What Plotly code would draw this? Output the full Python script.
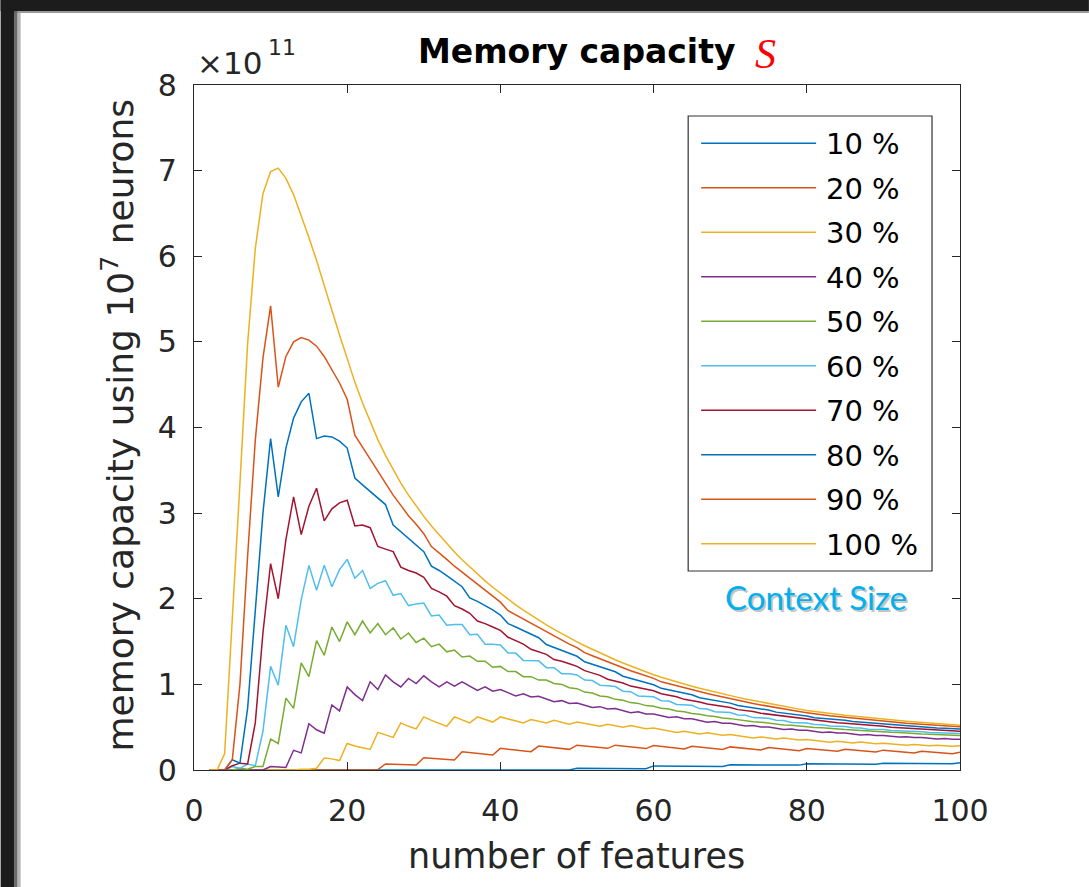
import plotly.graph_objects as go

# ---------------- data (values in units of 1e11) ----------------
features = list(range(2, 101))

context_labels = ["10 %", "20 %", "30 %", "40 %", "50 %", "60 %", "70 %", "80 %", "90 %", "100 %"]

cap_10 = [0]*48 + [
    0.020, 0.019, 0.019, 0.018, 0.018, 0.017, 0.017, 0.016, 0.016, 0.015,
    0.048, 0.047, 0.046, 0.046, 0.045, 0.044, 0.044, 0.043, 0.043, 0.042,
    0.062, 0.061, 0.061, 0.060, 0.060, 0.059, 0.059, 0.058, 0.058, 0.057,
    0.072, 0.071, 0.071, 0.070, 0.070, 0.069, 0.069, 0.068, 0.068, 0.067,
    0.078, 0.077, 0.077, 0.076, 0.076, 0.075, 0.075, 0.074, 0.074, 0.073,
    0.085]

cap_20 = [0]*18 + [
    0.005, 0.005, 0.004, 0.004, 0.004,
    0.070, 0.067, 0.064, 0.061, 0.058,
    0.144, 0.137, 0.130, 0.123, 0.117,
    0.214, 0.204, 0.194, 0.185, 0.175,
    0.253, 0.243, 0.233, 0.223, 0.214,
    0.280, 0.270, 0.260, 0.250, 0.241,
    0.290, 0.281, 0.272, 0.262, 0.253,
    0.290, 0.280, 0.270, 0.260, 0.250,
    0.285, 0.275, 0.265, 0.255, 0.245,
    0.278, 0.268, 0.258, 0.249, 0.240,
    0.270, 0.261, 0.252, 0.243, 0.234,
    0.262, 0.253, 0.244, 0.235, 0.226,
    0.252, 0.244, 0.236, 0.227, 0.218,
    0.242, 0.234, 0.226, 0.218, 0.210,
    0.232, 0.224, 0.216, 0.208, 0.200,
    0.220, 0.212, 0.205, 0.197, 0.190,
    0.208]

cap_30 = [0]*12 + [
    0.010, 0.010, 0.020, 0.140, 0.130, 0.110, 0.310, 0.280, 0.260, 0.240,
    0.440, 0.410, 0.380, 0.550, 0.510, 0.480, 0.620, 0.580, 0.545, 0.510,
    0.620, 0.585, 0.550, 0.620, 0.590, 0.560, 0.620, 0.595, 0.570, 0.550,
    0.590, 0.570, 0.550, 0.580, 0.560, 0.535, 0.560, 0.543, 0.527, 0.511,
    0.535, 0.518, 0.500, 0.520, 0.500, 0.482, 0.490, 0.472, 0.455, 0.439,
    0.453, 0.437, 0.422, 0.435, 0.420, 0.406, 0.414, 0.400, 0.387, 0.374,
    0.386, 0.373, 0.361, 0.373, 0.361, 0.350, 0.356, 0.345, 0.335, 0.325,
    0.335, 0.325, 0.316, 0.326, 0.317, 0.308, 0.312, 0.304, 0.296, 0.288,
    0.297, 0.289, 0.282, 0.290, 0.283, 0.276, 0.284]

cap_40 = [0]*8 + [
    0.040, 0.035, 0.030, 0.230, 0.200, 0.540, 0.470, 0.430, 0.760, 0.690,
    0.970, 0.880, 0.810, 1.030, 0.940, 1.110, 1.030, 0.970, 1.070, 1.010,
    1.100, 1.030, 0.970, 1.030, 0.980, 1.030, 0.980, 0.930, 0.970, 0.920,
    0.940, 0.900, 0.865, 0.890, 0.853, 0.862, 0.830, 0.798, 0.810, 0.778,
    0.782, 0.756, 0.730, 0.740, 0.713, 0.717, 0.693, 0.670, 0.680, 0.655,
    0.655, 0.633, 0.612, 0.621, 0.598, 0.598, 0.578, 0.558, 0.567, 0.547,
    0.547, 0.530, 0.513, 0.520, 0.503, 0.503, 0.488, 0.473, 0.480, 0.465,
    0.465, 0.452, 0.439, 0.445, 0.432, 0.432, 0.420, 0.409, 0.415, 0.403,
    0.403, 0.393, 0.384, 0.389, 0.379, 0.379, 0.371, 0.363, 0.367, 0.358,
    0.358]

cap_50 = [
    0, 0, 0, 0, 0.020, 0.010, 0.040, 0.040,
    0.360, 0.310, 0.840, 0.720, 1.250, 1.090, 1.510, 1.340, 1.670, 1.500,
    1.730, 1.580, 1.740, 1.600, 1.710, 1.580, 1.660, 1.530, 1.600, 1.490,
    1.540, 1.440, 1.470, 1.380, 1.400, 1.320, 1.330, 1.270, 1.270, 1.200,
    1.210, 1.150, 1.150, 1.090, 1.090, 1.050, 1.050, 1.010, 1.000, 0.960,
    0.950, 0.910, 0.900, 0.865, 0.855, 0.825, 0.815, 0.787, 0.778, 0.752,
    0.745, 0.722, 0.712, 0.690, 0.681, 0.660, 0.652, 0.633, 0.625, 0.607,
    0.600, 0.585, 0.578, 0.564, 0.558, 0.545, 0.539, 0.527, 0.522, 0.511,
    0.506, 0.497, 0.493, 0.484, 0.480, 0.472, 0.468, 0.461, 0.457, 0.450,
    0.447, 0.440, 0.437, 0.430, 0.427, 0.421, 0.418, 0.412, 0.410, 0.404,
    0.402]

cap_60 = [
    0, 0, 0, 0.040, 0.020, 0.070, 0.050, 0.450,
    1.210, 0.990, 1.690, 1.440, 1.990, 2.390, 2.100, 2.390, 2.140, 2.340,
    2.460, 2.240, 2.330, 2.120, 2.180, 2.210, 2.040, 2.060, 1.920, 1.940,
    1.950, 1.800, 1.810, 1.690, 1.700, 1.700, 1.580, 1.585, 1.470, 1.470,
    1.460, 1.365, 1.365, 1.280, 1.280, 1.275, 1.195, 1.195, 1.125, 1.125,
    1.110, 1.050, 1.045, 0.990, 0.985, 0.975, 0.920, 0.915, 0.865, 0.860,
    0.855, 0.810, 0.805, 0.765, 0.760, 0.755, 0.717, 0.713, 0.680, 0.676,
    0.672, 0.642, 0.638, 0.612, 0.608, 0.605, 0.580, 0.577, 0.556, 0.553,
    0.550, 0.532, 0.529, 0.513, 0.510, 0.508, 0.493, 0.490, 0.477, 0.475,
    0.473, 0.462, 0.460, 0.450, 0.448, 0.446, 0.437, 0.435, 0.428, 0.426,
    0.425]

cap_70 = [
    0, 0, 0, 0.050, 0.080, 0.070, 0.550, 1.600,
    2.410, 2.000, 2.690, 3.190, 2.750, 3.080, 3.290, 2.910, 3.050, 3.120,
    3.150, 2.850, 2.860, 2.830, 2.610, 2.580, 2.550, 2.370, 2.330, 2.300,
    2.250, 2.120, 2.080, 2.030, 1.920, 1.880, 1.830, 1.740, 1.710, 1.670,
    1.630, 1.550, 1.510, 1.470, 1.410, 1.380, 1.350, 1.290, 1.270, 1.240,
    1.210, 1.160, 1.130, 1.105, 1.060, 1.040, 1.015, 0.980, 0.960, 0.940,
    0.925, 0.890, 0.872, 0.855, 0.825, 0.810, 0.795, 0.770, 0.757, 0.744,
    0.730, 0.705, 0.694, 0.683, 0.663, 0.652, 0.642, 0.624, 0.615, 0.605,
    0.595, 0.580, 0.573, 0.566, 0.553, 0.546, 0.540, 0.528, 0.522, 0.516,
    0.510, 0.500, 0.495, 0.490, 0.481, 0.476, 0.472, 0.464, 0.460, 0.456,
    0.452]

cap_80 = [
    0, 0, 0, 0.120, 0.080, 0.720, 1.850, 3.000,
    3.870, 3.190, 3.760, 4.110, 4.300, 4.400, 3.870, 3.900, 3.890, 3.840,
    3.760, 3.410, 3.330, 3.250, 3.170, 3.100, 2.860, 2.780, 2.710, 2.630,
    2.550, 2.380, 2.330, 2.270, 2.200, 2.140, 2.010, 1.970, 1.920, 1.870,
    1.810, 1.710, 1.670, 1.630, 1.590, 1.545, 1.465, 1.430, 1.400, 1.364,
    1.328, 1.264, 1.236, 1.207, 1.178, 1.147, 1.095, 1.071, 1.045, 1.020,
    0.995, 0.954, 0.936, 0.916, 0.898, 0.878, 0.844, 0.829, 0.813, 0.797,
    0.781, 0.753, 0.740, 0.727, 0.714, 0.700, 0.676, 0.665, 0.654, 0.642,
    0.631, 0.611, 0.604, 0.596, 0.589, 0.580, 0.566, 0.559, 0.553, 0.547,
    0.541, 0.527, 0.523, 0.517, 0.512, 0.507, 0.496, 0.491, 0.487, 0.482,
    0.478]

cap_90 = [
    0, 0, 0, 0.120, 1.000, 2.500, 3.850, 4.810,
    5.420, 4.470, 4.830, 5.000, 5.050, 5.020, 4.950, 4.830, 4.670, 4.520,
    4.330, 3.910, 3.770, 3.630, 3.480, 3.350, 3.210, 3.090, 2.970, 2.870,
    2.760, 2.610, 2.540, 2.460, 2.380, 2.310, 2.230, 2.160, 2.090, 2.020,
    1.960, 1.860, 1.810, 1.760, 1.710, 1.660, 1.610, 1.560, 1.520, 1.470,
    1.430, 1.370, 1.335, 1.300, 1.260, 1.230, 1.190, 1.160, 1.130, 1.100,
    1.070, 1.030, 1.006, 0.983, 0.960, 0.937, 0.915, 0.893, 0.873, 0.853,
    0.833, 0.808, 0.793, 0.776, 0.760, 0.743, 0.728, 0.712, 0.698, 0.683,
    0.669, 0.652, 0.644, 0.633, 0.624, 0.613, 0.605, 0.596, 0.588, 0.579,
    0.571, 0.561, 0.554, 0.547, 0.541, 0.534, 0.528, 0.521, 0.516, 0.509,
    0.504]

cap_100 = [
    0, 0, 0.190, 1.700, 3.350, 4.980, 6.090, 6.730,
    6.990, 7.030, 6.910, 6.720, 6.480, 6.220, 5.950, 5.670, 5.370, 5.080,
    4.800, 4.530, 4.285, 4.062, 3.859, 3.674, 3.505, 3.351, 3.210, 3.082,
    2.962, 2.849, 2.744, 2.642, 2.547, 2.455, 2.369, 2.286, 2.209, 2.134,
    2.063, 1.995, 1.929, 1.867, 1.808, 1.750, 1.695, 1.643, 1.592, 1.543,
    1.496, 1.451, 1.408, 1.365, 1.326, 1.287, 1.250, 1.214, 1.178, 1.145,
    1.113, 1.084, 1.056, 1.029, 1.004, 0.979, 0.955, 0.932, 0.910, 0.889,
    0.868, 0.848, 0.829, 0.811, 0.793, 0.775, 0.758, 0.742, 0.727, 0.711,
    0.696, 0.683, 0.672, 0.660, 0.650, 0.639, 0.630, 0.620, 0.611, 0.602,
    0.594, 0.586, 0.578, 0.570, 0.563, 0.556, 0.549, 0.542, 0.536, 0.529,
    0.523]

series = [cap_10, cap_20, cap_30, cap_40, cap_50, cap_60, cap_70, cap_80, cap_90, cap_100]
bad = [(lab, len(s)) for lab, s in zip(context_labels, series) if len(s) != len(features)]
if bad:
    raise ValueError(f"length mismatch: {bad}, expected {len(features)}")

colors = ["#0072BD", "#D95319", "#EDB120", "#7E2F8E", "#77AC30",
          "#4DBEEE", "#A2142F", "#0072BD", "#D95319", "#EDB120"]

# ---------------- geometry (pixels) ----------------
W, H = 1089, 887
PL, PR, PT, PB = 193.5, 960.0, 85.0, 770.0
AXC = "#262626"


def px(x):
    return (x - PL) / (PR - PL)


def py(y):
    return (PB - y) / (PB - PT)


fig = go.Figure()
for lab, ys, col in zip(context_labels, series, colors):
    fig.add_trace(go.Scatter(x=features, y=ys, mode="lines", name=lab,
                             line=dict(color=col, width=1.5), showlegend=False))

axis_common = dict(ticks="inside", ticklen=8, tickwidth=1.3, tickcolor=AXC,
                   showline=True, linecolor=AXC, linewidth=1.3, mirror="ticks",
                   showgrid=False, zeroline=False,
                   tickfont=dict(family="DejaVu Sans", size=30, color=AXC))

fig.update_xaxes(range=[0, 100], tickvals=[0, 20, 40, 60, 80, 100], ticklabelstandoff=14, **axis_common)
fig.update_yaxes(range=[0, 8], tickvals=list(range(0, 9)), ticklabelstandoff=10, **axis_common)

shapes = []
# screenshot frame (dark band top and left)
shapes.append(dict(type="rect", xref="paper", yref="paper", x0=px(0), x1=px(W), y0=py(0), y1=py(11),
                   fillcolor="#1c1c1c", line=dict(width=0), layer="above"))
shapes.append(dict(type="rect", xref="paper", yref="paper", x0=px(13), x1=px(W), y0=py(11), y1=py(13),
                   fillcolor="#9a9a9a", line=dict(width=0), layer="above"))
shapes.append(dict(type="rect", xref="paper", yref="paper", x0=px(0), x1=px(14), y0=py(0), y1=py(H),
                   fillcolor="#1c1c1c", line=dict(width=0), layer="above"))
shapes.append(dict(type="rect", xref="paper", yref="paper", x0=px(14), x1=px(17), y0=py(11), y1=py(H),
                   fillcolor="#6a6a6a", line=dict(width=0), layer="above"))
shapes.append(dict(type="rect", xref="paper", yref="paper", x0=px(17), x1=px(20), y0=py(13), y1=py(H),
                   fillcolor="#b5b5b5", line=dict(width=0), layer="above"))

# legend box
LX0, LX1, LY0, LY1 = 688, 932, 116, 571
shapes.append(dict(type="rect", xref="paper", yref="paper", x0=px(LX0), x1=px(LX1), y0=py(LY1), y1=py(LY0),
                   fillcolor="white", line=dict(color="#333333", width=1.2), layer="above"))
annotations = []
for i, (lab, col) in enumerate(zip(context_labels, colors)):
    yy = 143.3 + 44.5 * i
    shapes.append(dict(type="line", xref="paper", yref="paper", x0=px(701), x1=px(816), y0=py(yy), y1=py(yy),
                       line=dict(color=col, width=1.5), layer="above"))
    annotations.append(dict(xref="paper", yref="paper", x=px(824), y=py(yy + 1), xanchor="left", yanchor="middle",
                            text=lab, showarrow=False, font=dict(family="DejaVu Sans", size=29, color="#000000")))

# Context Size label (with soft shadow)
annotations.append(dict(xref="paper", yref="paper", x=px(817.5), y=py(599), xanchor="center", yanchor="middle",
                        text="Context Size", showarrow=False, font=dict(family="Lato", size=33, color="#c4c4c4")))
annotations.append(dict(xref="paper", yref="paper", x=px(815.5), y=py(597), xanchor="center", yanchor="middle",
                        text="Context Size", showarrow=False, font=dict(family="Lato", size=33, color="#00B0F0")))

# title
annotations.append(dict(xref="paper", yref="paper", x=px(576.5), y=py(73), xanchor="center", yanchor="bottom",
                        text="<b>Memory capacity</b>", showarrow=False,
                        font=dict(family="DejaVu Sans", size=33, color="#000000")))
annotations.append(dict(xref="paper", yref="paper", x=px(765), y=py(79), xanchor="center", yanchor="bottom",
                        text="<i>S</i>", showarrow=False,
                        font=dict(family="Liberation Serif", size=42, color="#FF0000")))

# exponent label
annotations.append(dict(xref="paper", yref="paper", x=px(195), y=py(83), xanchor="left", yanchor="bottom",
                        text="×10", showarrow=False,
                        font=dict(family="DejaVu Sans", size=31, color=AXC)))
annotations.append(dict(xref="paper", yref="paper", x=px(266), y=py(62), xanchor="left", yanchor="bottom",
                        text="11", showarrow=False,
                        font=dict(family="DejaVu Sans", size=22, color=AXC)))

# axis titles
annotations.append(dict(xref="paper", yref="paper", x=px(576.5), y=py(856), xanchor="center", yanchor="middle",
                        text="number of features", showarrow=False,
                        font=dict(family="DejaVu Sans", size=35, color=AXC)))
annotations.append(dict(xref="paper", yref="paper", x=px(117), y=py(425), xanchor="center", yanchor="middle",
                        text="memory capacity using 10<sup>7</sup> neurons", textangle=-90, showarrow=False,
                        font=dict(family="DejaVu Sans", size=36, color=AXC)))

fig.update_layout(width=W, height=H,
                  margin=dict(l=PL, r=W - PR, t=PT, b=H - PB, pad=0, autoexpand=False),
                  paper_bgcolor="white", plot_bgcolor="white",
                  shapes=shapes, annotations=annotations, showlegend=False)

fig.write_html("out.html", config={"displayModeBar": False},
               post_script="document.body.style.margin='0';document.body.style.overflow='hidden';")
